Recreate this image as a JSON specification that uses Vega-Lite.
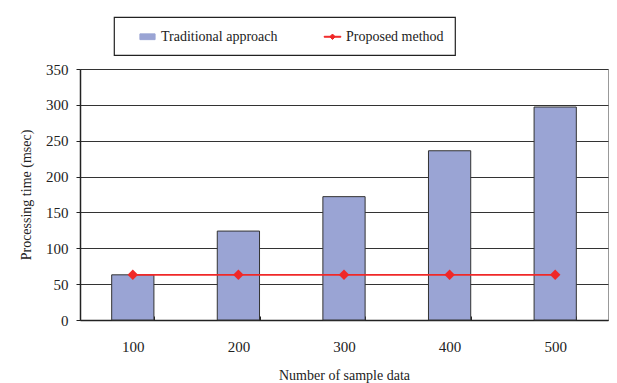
{
  "$schema": "https://vega.github.io/schema/vega-lite/v6.json",
  "width": 528,
  "height": 251,
  "padding": {"left": 19, "top": 16, "right": 5, "bottom": 3},
  "background": "white",
  "data": {
    "values": [
      {"n": "100", "time": 63, "series": "Traditional approach"},
      {"n": "200", "time": 124, "series": "Traditional approach"},
      {"n": "300", "time": 172, "series": "Traditional approach"},
      {"n": "400", "time": 236, "series": "Traditional approach"},
      {"n": "500", "time": 297, "series": "Traditional approach"},
      {"n": "100", "time": 63, "series": "Proposed method"},
      {"n": "200", "time": 63, "series": "Proposed method"},
      {"n": "300", "time": 63, "series": "Proposed method"},
      {"n": "400", "time": 63, "series": "Proposed method"},
      {"n": "500", "time": 63, "series": "Proposed method"}
    ]
  },
  "config": {
    "font": "Liberation Serif",
    "view": {"stroke": "#999999", "strokeWidth": 1},
    "axis": {
      "labelFont": "Liberation Serif",
      "titleFont": "Liberation Serif",
      "labelFontSize": 15,
      "titleFontSize": 14,
      "titleFontWeight": "normal",
      "labelColor": "#222222",
      "titleColor": "#222222",
      "domainColor": "#222222",
      "tickColor": "#222222"
    },
    "legend": {
      "labelFont": "Liberation Serif",
      "labelFontSize": 14,
      "labelColor": "#222222"
    }
  },
  "encoding": {
    "x": {
      "field": "n",
      "type": "ordinal",
      "title": "Number of sample data",
      "scale": {"paddingInner": 0.6, "paddingOuter": 0.3},
      "axis": {
        "labelAngle": 0,
        "labelPadding": 23,
        "tickSize": -4,
        "tickBand": "extent",
        "titlePadding": 14,
        "domainWidth": 1.5
      }
    },
    "y": {
      "field": "time",
      "type": "quantitative",
      "title": "Processing time (msec)",
      "scale": {"domain": [0, 350], "nice": false},
      "axis": {
        "values": [0, 50, 100, 150, 200, 250, 300, 350],
        "tickSize": 4,
        "labelPadding": 8,
        "titlePadding": 12,
        "gridColor": "#333333",
        "gridWidth": 1,
        "domainWidth": 1.5
      }
    },
    "color": {
      "field": "series",
      "type": "nominal",
      "scale": {
        "domain": ["Traditional approach", "Proposed method"],
        "range": ["#9aa4d4", "#f02828"]
      },
      "legend": {
        "title": null,
        "orient": "none",
        "legendX": 34,
        "legendY": -52,
        "direction": "horizontal",
        "columns": 2,
        "columnPadding": 32,
        "padding": 11,
        "symbolOffset": 14,
        "strokeColor": "#222222",
        "labelOffset": 5,
        "symbolSize": 230,
        "encode": {
          "legend": {"update": {"strokeWidth": {"value": 1.2}}},
          "symbols": {
            "update": {
              "shape": {"signal": "datum.value === 'Traditional approach' ? 'M-1,-0.38H1V0.38H-1Z' : 'M-1.1,-0.06H1.1V0.06H-1.1Z M0,-0.36L0.36,0L0,0.36L-0.36,0Z'"},
              "stroke": {"signal": "datum.value === 'Traditional approach' ? '#333333' : '#f02828'"},
              "strokeWidth": {"value": 1},
              "fill": {"signal": "datum.value === 'Traditional approach' ? '#9aa4d4' : '#f02828'"},
              "fillOpacity": {"value": 1}
            }
          }
        }
      }
    }
  },
  "layer": [
    {
      "transform": [{"filter": "datum.series === 'Traditional approach'"}],
      "mark": {"type": "bar", "stroke": "#333333", "strokeWidth": 1, "opacity": 1}
    },
    {
      "transform": [{"filter": "datum.series === 'Proposed method'"}],
      "mark": {"type": "line", "strokeWidth": 1.8, "point": {"shape": "diamond", "size": 110, "filled": true, "opacity": 1}}
    }
  ]
}
